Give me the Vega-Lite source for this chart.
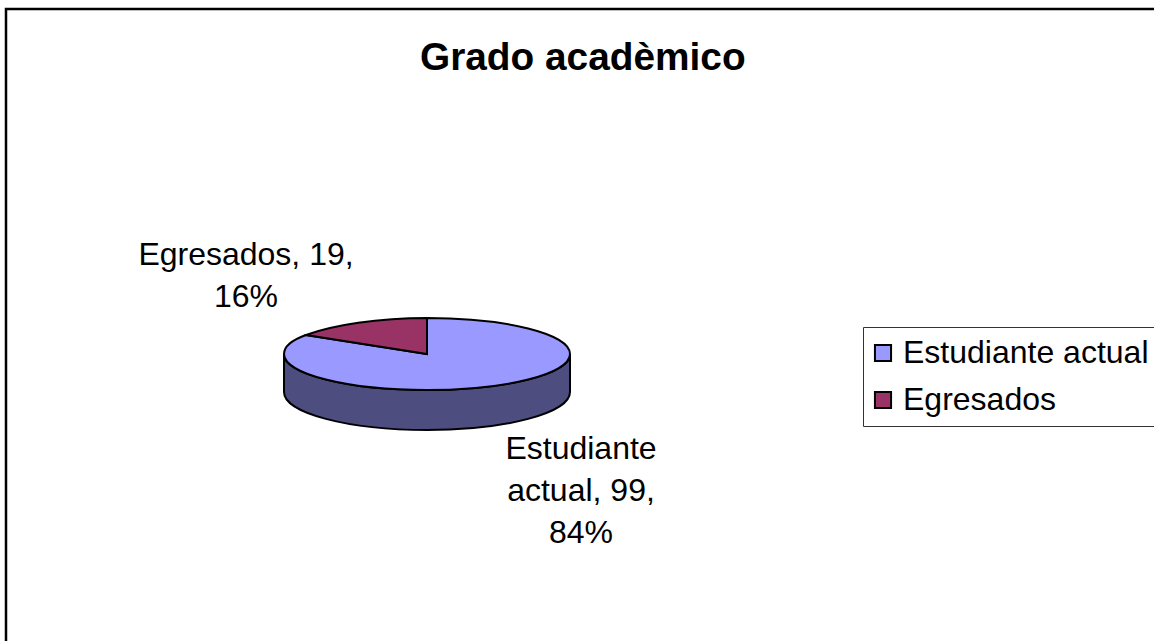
{
  "$schema": "https://vega.github.io/schema/vega-lite/v6.json",
  "autosize": {"type": "none"},
  "width": 1300,
  "height": 700,
  "padding": {"left": 6, "top": 9, "right": 0, "bottom": 0},
  "background": "white",
  "config": {"view": {"stroke": "black", "strokeWidth": 2.5, "fill": "white"}},
  "title": {"text": "Grado acadèmico", "font": "Liberation Sans", "fontSize": 38.8, "fontWeight": "bold", "color": "black", "anchor": "start", "frame": "group", "dx": 414, "offset": -69},
  "data": {"values": [
    {"category": "Estudiante actual", "count": 99, "label": "Estudiante\nactual, 99,\n84%"},
    {"category": "Egresados", "count": 19, "label": "Egresados, 19,\n16%"}
  ]},
  "layer": [
    {
      "transform": [{"filter": "datum.category === 'Estudiante actual'"}],
      "mark": {"type": "point", "filled": true, "size": 4, "opacity": 1, "fill": "#4d4d80", "stroke": "black", "strokeWidth": 2,
        "shape": "M-372,-5 L-372,33 C-372,54 -308,71 -229,71 C-150,71 -86,54 -86,33 L-86,-5 C-86,15 -150,31 -229,31 C-308,31 -372,15 -372,-5 Z"},
      "encoding": {}
    },
    {
      "transform": [{"filter": "datum.category === 'Estudiante actual'"}],
      "mark": {"type": "point", "filled": true, "size": 4, "opacity": 1, "stroke": "black", "strokeWidth": 2,
        "shape": "M-229,-5 L-229,-41 C-150,-41 -86,-25 -86,-5 C-86,15 -150,31 -229,31 C-308,31 -372,15 -372,-5 C-372,-12 -364,-19 -350,-24 Z"},
      "encoding": {
        "color": {"field": "category", "type": "nominal",
          "scale": {"domain": ["Estudiante actual", "Egresados"], "range": ["#9999ff", "#993366"]},
          "legend": {"title": null, "orient": "none", "legendX": 857, "legendY": 318, "symbolType": "square", "symbolSize": 260, "symbolOffset": -6, "labelOffset": 4, "symbolStrokeColor": "black", "symbolStrokeWidth": 2, "symbolOpacity": 1, "labelFont": "Liberation Sans", "labelFontSize": 32, "labelColor": "black", "labelLimit": 400, "rowPadding": 15, "padding": 10, "fillColor": "white", "strokeColor": "#333333", "cornerRadius": 0}}
      }
    },
    {
      "transform": [{"filter": "datum.category === 'Egresados'"}],
      "mark": {"type": "point", "filled": true, "size": 4, "opacity": 1, "stroke": "black", "strokeWidth": 2,
        "shape": "M-229,-5 L-229,-41 C-278,-41 -323,-34 -350,-24 Z"},
      "encoding": {
        "color": {"field": "category", "type": "nominal",
          "scale": {"domain": ["Estudiante actual", "Egresados"], "range": ["#9999ff", "#993366"]}}
      }
    },
    {
      "mark": {"type": "text", "font": "Liberation Sans", "fontSize": 32, "color": "black", "align": "center", "baseline": "middle", "lineBreak": "\n", "lineHeight": 42},
      "encoding": {
        "text": {"field": "label", "type": "nominal"},
        "x": {"field": "category", "type": "nominal", "axis": null, "scale": {"type": "point", "padding": 0, "domain": ["Estudiante actual", "Egresados"], "range": [575, 240]}},
        "y": {"field": "category", "type": "nominal", "axis": null, "scale": {"type": "point", "padding": 0, "domain": ["Estudiante actual", "Egresados"], "range": [440, 246]}}
      }
    }
  ]
}
